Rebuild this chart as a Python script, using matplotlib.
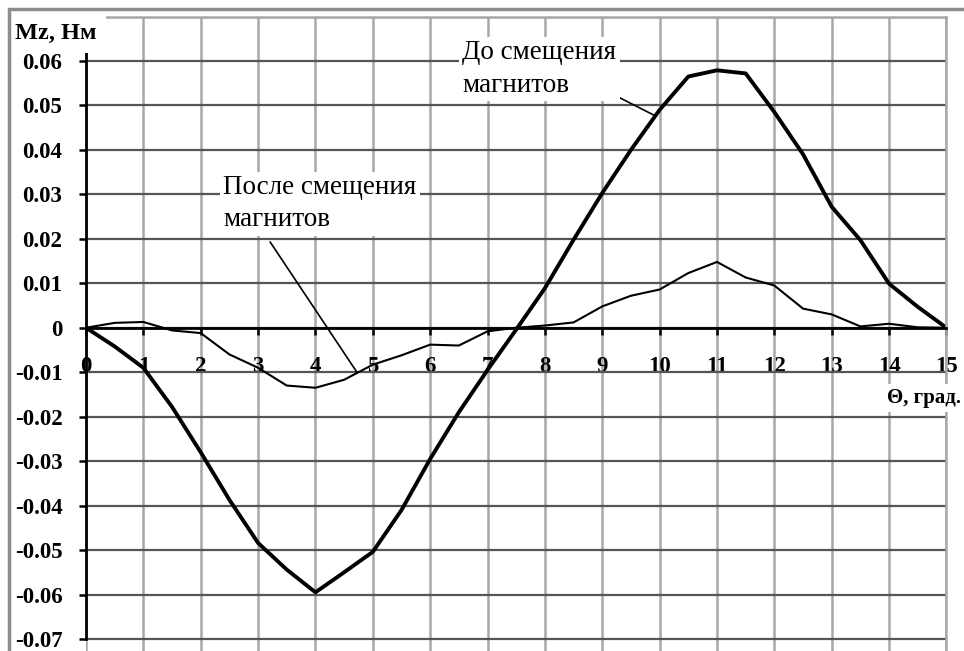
import numpy as np
import matplotlib.pyplot as plt
from matplotlib.patches import Rectangle

# угол поворота, град.
theta = np.arange(0, 15.01, 0.5)

# момент до смещения магнитов, Нм
mz_before = [0.0, -0.0042, -0.009, -0.0178, -0.028, -0.0387, -0.0484, -0.0544,
             -0.0595, -0.055, -0.0504, -0.041, -0.0295, -0.019, -0.0095, -0.0004,
             0.0089, 0.0198, 0.0303, 0.040, 0.049, 0.0565, 0.0579, 0.0572,
             0.0485, 0.039, 0.0272, 0.0197, 0.0099, 0.0047, 0.0]

# момент после смещения магнитов, Нм
mz_after = [0.0, 0.0011, 0.0013, -0.0006, -0.0012, -0.006, -0.009, -0.013,
            -0.0135, -0.0117, -0.0083, -0.0062, -0.0038, -0.004, -0.0008, 0.0,
            0.0005, 0.0012, 0.0048, 0.0072, 0.0086, 0.0123, 0.0148, 0.0113,
            0.0095, 0.0043, 0.003, 0.0003, 0.0009, 0.0001, 0.0]

x_ticks = list(range(0, 16))
y_ticks = [round(v * 0.01, 2) for v in range(-7, 8)]
y_labels = ["%.2f" % v if v != 0 else "0" for v in y_ticks[:-1]] + [""]

serif = "Liberation Serif"

fig = plt.figure(figsize=(9.64, 6.51), dpi=100)
ax = fig.add_axes([0.0892, 0.0, 0.8926, 0.97465])
ax.set_xlim(0, 15)
ax.set_ylim(-0.0727, 0.07)

ax.set_axisbelow(True)
ax.set_xticks(x_ticks)
ax.set_yticks(y_ticks)
ax.set_yticklabels(y_labels)
ax.grid(axis="x", color="#a8a8a8", lw=1.8)
ax.grid(axis="y", color="#555555", lw=1.6)

for s in ("top", "right"):
    ax.spines[s].set_color("#a8a8a8")
    ax.spines[s].set_linewidth(1.8)
ax.spines["left"].set_bounds(-0.07, 0.07)
ax.spines["left"].set_linewidth(2)
ax.spines["bottom"].set_position(("data", 0))
ax.spines["bottom"].set_linewidth(2)

ax.tick_params(axis="both", direction="out", length=5, width=1.8, colors="black")
ax.tick_params(axis="x", pad=15)
ax.tick_params(axis="y", pad=12)
for lab in ax.get_xticklabels() + ax.get_yticklabels():
    lab.set_fontfamily(serif)
    lab.set_fontweight("bold")
    lab.set_fontsize(16.5)

ax.plot(theta, mz_before, color="black", lw=2.8, solid_joinstyle="round",
        solid_capstyle="round")
ax.plot(theta, mz_after, color="black", lw=1.5, solid_joinstyle="round")

box = dict(facecolor="white", edgecolor="none", boxstyle="square,pad=0.12")

ax.text(6.56, 0.0582, "До смещения\nмагнитов", family=serif, fontsize=19.5,
        ha="left", va="center", linespacing=1.4, bbox=box, zorder=5)
ax.text(2.39, 0.0279, "После смещения\nмагнитов", family=serif, fontsize=19.5,
        ha="left", va="center", linespacing=1.4, bbox=box, zorder=5)

# выноски к кривым
x_end = 9.925
ax.annotate("", xy=(x_end, np.interp(x_end, theta, mz_before)), xytext=(8.76, 0.0553),
            arrowprops=dict(arrowstyle="-", color="black", lw=1.2, shrinkA=0, shrinkB=0))
x_end = 4.73
ax.annotate("", xy=(x_end, np.interp(x_end, theta, mz_after)), xytext=(3.21, 0.0193),
            arrowprops=dict(arrowstyle="-", color="black", lw=1.2, shrinkA=0, shrinkB=0))

ax.text(-1.24, 0.0663, "Mz, Нм", family=serif, fontsize=17.5, fontweight="bold",
        ha="left", va="center", clip_on=False, zorder=6,
        bbox=dict(facecolor="white", edgecolor="none", boxstyle="square,pad=0.4"))
ax.text(13.97, -0.0158, "Θ, град.", family=serif, fontsize=15, fontweight="bold",
        ha="left", va="center", clip_on=False, zorder=6,
        bbox=dict(facecolor="white", edgecolor="none", boxstyle="square,pad=0.2"))

# рамка вокруг диаграммы
fig.patches.append(Rectangle((9 / 964, -0.1), 2, (651 - 9) / 651 + 0.1,
                             transform=fig.transFigure, fill=False,
                             edgecolor="#8c8c8c", lw=2.5))

fig.savefig("out.png", dpi=100)
